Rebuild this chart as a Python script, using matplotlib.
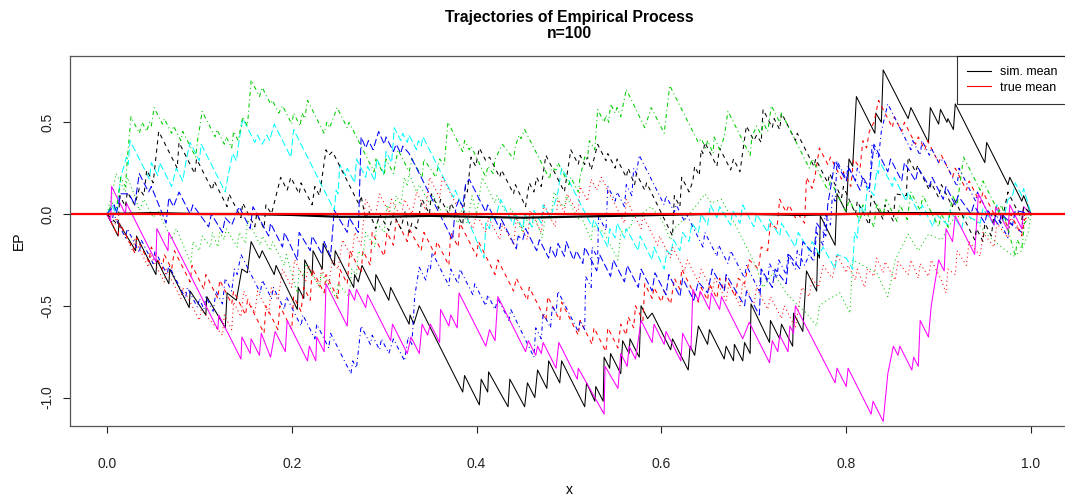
import matplotlib
matplotlib.use("Agg")
import matplotlib.pyplot as plt

plt.rcParams['font.family'] = ['Liberation Sans', 'DejaVu Sans']

# ten simulated trajectories (x, EP), in matplot order
black_solid = [(0, 0), (0.012, -0.12), (0.013, -0.05), (0.031, -0.2), (0.032, -0.12), (0.053, -0.33),
               (0.054, -0.25), (0.067, -0.38), (0.068, -0.3), (0.089, -0.51), (0.09, -0.42), (0.107, -0.55),
               (0.108, -0.45), (0.128, -0.62), (0.13, -0.43), (0.14, -0.47), (0.146, -0.3), (0.152, -0.32),
               (0.156, -0.15), (0.165, -0.24), (0.168, -0.2), (0.181, -0.33), (0.183, -0.28), (0.206, -0.52),
               (0.207, -0.4), (0.213, -0.46), (0.214, -0.25), (0.222, -0.33), (0.223, -0.2), (0.233, -0.3),
               (0.234, -0.16), (0.246, -0.28), (0.247, -0.2), (0.267, -0.4), (0.268, -0.33), (0.272, -0.37),
               (0.276, -0.28), (0.29, -0.42), (0.291, -0.33), (0.305, -0.47), (0.307, -0.4), (0.327, -0.6),
               (0.328, -0.55), (0.332, -0.6), (0.338, -0.5), (0.385, -0.97), (0.387, -0.88), (0.403, -1.04),
               (0.405, -0.9), (0.412, -0.97), (0.413, -0.86), (0.434, -1.05), (0.436, -0.9), (0.452, -1.05),
               (0.455, -0.92), (0.463, -1.0), (0.466, -0.85), (0.476, -0.95), (0.478, -0.8), (0.49, -0.92),
               (0.492, -0.8), (0.517, -1.05), (0.519, -0.92), (0.528, -1.02), (0.529, -0.94), (0.537, -1.02),
               (0.538, -0.78), (0.544, -0.84), (0.545, -0.76), (0.556, -0.87), (0.558, -0.69), (0.565, -0.76),
               (0.566, -0.68), (0.576, -0.78), (0.578, -0.5), (0.585, -0.57), (0.59, -0.54), (0.61, -0.74),
               (0.612, -0.68), (0.629, -0.85), (0.631, -0.72), (0.636, -0.77), (0.64, -0.61), (0.65, -0.71),
               (0.652, -0.63), (0.668, -0.79), (0.67, -0.72), (0.678, -0.8), (0.679, -0.71), (0.688, -0.8),
               (0.69, -0.7), (0.696, -0.76), (0.697, -0.49), (0.717, -0.7), (0.718, -0.58), (0.728, -0.68),
               (0.73, -0.6), (0.742, -0.72), (0.743, -0.54), (0.753, -0.64), (0.757, -0.31), (0.768, -0.42),
               (0.769, -0.21), (0.771, -0.24), (0.772, -0.01), (0.788, -0.17), (0.79, 0.11), (0.8, 0.01),
               (0.803, 0.3), (0.807, 0.26), (0.811, 0.64), (0.831, 0.44), (0.832, 0.55), (0.838, 0.5),
               (0.84, 0.785), (0.867, 0.52), (0.87, 0.58), (0.889, 0.39), (0.891, 0.58), (0.9, 0.49),
               (0.902, 0.57), (0.909, 0.5), (0.91, 0.52), (0.916, 0.46), (0.918, 0.6), (0.95, 0.28),
               (0.952, 0.39), (0.975, 0.16), (0.977, 0.2), (0.99, 0.07), (0.992, 0.1), (1.0, 0.0)]

red_dashed = [(0, 0), (0.012, -0.12), (0.014, -0.05), (0.03, -0.21), (0.032, -0.13), (0.045, -0.26),
              (0.048, -0.18), (0.06, -0.3), (0.062, -0.22), (0.07, -0.3), (0.073, -0.2), (0.09, -0.37),
              (0.092, -0.28), (0.105, -0.41), (0.107, -0.33), (0.12, -0.46), (0.122, -0.36), (0.135, -0.49),
              (0.137, -0.42), (0.15, -0.55), (0.152, -0.47), (0.17, -0.65), (0.172, -0.5), (0.185, -0.63),
              (0.187, -0.5), (0.2, -0.63), (0.202, -0.45), (0.21, -0.53), (0.213, -0.4), (0.22, -0.47),
              (0.222, -0.3), (0.235, -0.43), (0.237, -0.33), (0.25, -0.46), (0.252, -0.3), (0.26, -0.38),
              (0.263, -0.2), (0.275, -0.32), (0.277, -0.2), (0.285, -0.28), (0.287, -0.1), (0.3, -0.23),
              (0.303, -0.1), (0.31, -0.17), (0.313, -0.03), (0.325, -0.15), (0.327, -0.08), (0.34, -0.2),
              (0.343, -0.1), (0.355, -0.22), (0.357, -0.15), (0.37, -0.28), (0.372, -0.1), (0.38, -0.18),
              (0.382, -0.05), (0.4, -0.23), (0.402, -0.15), (0.42, -0.33), (0.423, -0.25), (0.44, -0.42),
              (0.443, -0.35), (0.455, -0.47), (0.457, -0.4), (0.475, -0.58), (0.477, -0.45), (0.49, -0.58),
              (0.492, -0.48), (0.51, -0.66), (0.512, -0.58), (0.525, -0.71), (0.527, -0.62), (0.54, -0.75),
              (0.542, -0.62), (0.553, -0.73), (0.556, -0.6), (0.562, -0.66), (0.564, -0.56), (0.57, -0.62),
              (0.572, -0.5), (0.58, -0.58), (0.582, -0.38), (0.59, -0.46), (0.592, -0.4), (0.6, -0.48),
              (0.603, -0.42), (0.61, -0.49), (0.614, -0.35), (0.62, -0.41), (0.622, -0.3), (0.64, -0.48),
              (0.643, -0.4), (0.65, -0.47), (0.652, -0.38), (0.66, -0.46), (0.663, -0.35), (0.668, -0.42),
              (0.67, -0.35), (0.68, -0.45), (0.683, -0.35), (0.69, -0.38), (0.695, -0.25), (0.705, -0.3),
              (0.708, -0.18), (0.715, -0.2), (0.718, -0.05), (0.725, -0.08), (0.728, 0.08), (0.735, 0.01),
              (0.738, 0.05), (0.745, -0.02), (0.748, 0.0), (0.755, -0.05), (0.757, 0.2), (0.763, 0.14),
              (0.766, 0.2), (0.771, 0.36), (0.78, 0.27), (0.783, 0.31), (0.795, 0.19), (0.797, 0.23),
              (0.805, 0.15), (0.808, 0.3), (0.815, 0.25), (0.818, 0.4), (0.822, 0.36), (0.825, 0.45),
              (0.83, 0.5), (0.835, 0.62), (0.85, 0.47), (0.852, 0.53), (0.86, 0.45), (0.863, 0.5),
              (0.875, 0.38), (0.878, 0.42), (0.885, 0.35), (0.888, 0.4), (0.9, 0.28), (0.903, 0.32),
              (0.915, 0.2), (0.918, 0.25), (0.93, 0.13), (0.933, 0.18), (0.945, 0.06), (0.948, 0.12),
              (0.96, 0.0), (0.963, 0.05), (0.975, -0.07), (0.978, 0.0), (0.99, -0.12), (0.993, -0.03), (1, 0)]

green_dotted = [(0, 0), (0.005, 0.1), (0.01, 0.22), (0.02, 0.12), (0.022, 0.2), (0.03, 0.1), (0.035, 0.02),
                (0.04, 0.08), (0.05, -0.02), (0.055, 0.02), (0.07, -0.14), (0.075, -0.08), (0.091, -0.27),
                (0.093, -0.15), (0.1, -0.2), (0.103, -0.12), (0.112, -0.18), (0.114, -0.1), (0.12, -0.18),
                (0.122, -0.1), (0.127, -0.14), (0.129, -0.08), (0.141, -0.18), (0.143, -0.1), (0.15, -0.16),
                (0.152, -0.03), (0.166, -0.17), (0.168, -0.12), (0.177, -0.2), (0.179, -0.15), (0.192, -0.28),
                (0.194, -0.22), (0.206, -0.43), (0.208, -0.3), (0.213, -0.34), (0.215, -0.27), (0.23, -0.4),
                (0.232, -0.32), (0.248, -0.46), (0.25, -0.38), (0.262, -0.45), (0.265, -0.3), (0.27, -0.33),
                (0.272, -0.2), (0.277, -0.23), (0.28, -0.1), (0.29, -0.18), (0.292, -0.05), (0.3, -0.1),
                (0.303, 0.05), (0.31, -0.02), (0.313, 0.1), (0.318, 0.05), (0.322, 0.2), (0.325, 0.15),
                (0.327, 0.22), (0.335, 0.12), (0.338, 0.16), (0.35, 0.05), (0.353, 0.1), (0.365, -0.02),
                (0.368, 0.04), (0.38, -0.05), (0.383, 0.02), (0.39, -0.05), (0.395, 0.1), (0.4, 0.0),
                (0.403, 0.1), (0.406, 0.2), (0.42, 0.06), (0.422, 0.1), (0.435, -0.03), (0.437, 0.03),
                (0.45, -0.1), (0.452, -0.02), (0.46, -0.07), (0.462, 0.0), (0.471, -0.13), (0.475, 0.0),
                (0.48, -0.03), (0.484, 0.12), (0.49, 0.06), (0.495, 0.04), (0.497, 0.1), (0.51, -0.03),
                (0.512, 0.0), (0.524, -0.14), (0.526, -0.06), (0.538, -0.1), (0.553, -0.25), (0.556, -0.1),
                (0.567, -0.07), (0.57, 0.0), (0.578, 0.0), (0.589, 0.04), (0.6, -0.03), (0.61, -0.14),
                (0.613, -0.08), (0.625, -0.03), (0.64, 0.06), (0.647, 0.11), (0.654, 0.06), (0.665, 0.08),
                (0.677, -0.03), (0.692, -0.18), (0.703, -0.29), (0.71, -0.4), (0.721, -0.32), (0.735, -0.43),
                (0.746, -0.49), (0.757, -0.54), (0.768, -0.61), (0.771, -0.5), (0.779, -0.47), (0.793, -0.43),
                (0.804, -0.54), (0.807, -0.25), (0.822, -0.29), (0.833, -0.32), (0.845, -0.45), (0.853, -0.25),
                (0.867, -0.11), (0.878, -0.2), (0.889, -0.11), (0.903, -0.14), (0.918, -0.01), (0.939, -0.03),
                (0.954, -0.12), (0.968, -0.18), (0.981, -0.23), (0.99, -0.2), (0.997, -0.1), (1, 0)]

blue_dotdash = [(0, 0), (0.005, -0.05), (0.007, 0.0), (0.02, -0.13), (0.022, -0.08), (0.035, -0.21),
                (0.037, -0.14), (0.05, -0.27), (0.052, -0.2), (0.065, -0.33), (0.067, -0.28), (0.085, -0.46),
                (0.087, -0.4), (0.098, -0.51), (0.1, -0.46), (0.105, -0.52), (0.107, -0.45), (0.115, -0.53),
                (0.118, -0.42), (0.125, -0.49), (0.128, -0.35), (0.135, -0.42), (0.138, -0.3), (0.141, -0.33),
                (0.145, -0.22), (0.166, -0.43), (0.168, -0.36), (0.178, -0.46), (0.18, -0.4), (0.192, -0.52),
                (0.194, -0.45), (0.21, -0.61), (0.212, -0.55), (0.225, -0.68), (0.227, -0.6), (0.24, -0.73),
                (0.242, -0.65), (0.264, -0.87), (0.266, -0.8), (0.27, -0.84), (0.272, -0.75), (0.275, -0.61),
                (0.285, -0.71), (0.287, -0.66), (0.295, -0.74), (0.297, -0.68), (0.305, -0.76), (0.31, -0.68),
                (0.322, -0.8), (0.326, -0.67), (0.33, -0.71), (0.333, -0.45), (0.338, -0.29), (0.345, -0.36),
                (0.348, -0.28), (0.35, -0.3), (0.352, -0.21), (0.37, -0.39), (0.372, -0.3), (0.38, -0.38),
                (0.382, -0.3), (0.396, -0.44), (0.398, -0.38), (0.41, -0.5), (0.412, -0.44), (0.42, -0.52),
                (0.423, -0.46), (0.435, -0.58), (0.437, -0.52), (0.462, -0.78), (0.464, -0.62), (0.47, -0.68),
                (0.472, -0.54), (0.48, -0.62), (0.482, -0.5), (0.486, -0.54), (0.488, -0.42), (0.51, -0.64),
                (0.512, -0.58), (0.517, -0.63), (0.518, -0.34), (0.524, -0.4), (0.525, -0.18), (0.531, -0.24),
                (0.532, -0.01), (0.54, -0.09), (0.542, 0.15), (0.55, 0.07), (0.552, 0.12), (0.56, 0.04),
                (0.562, 0.16), (0.568, 0.1), (0.57, 0.25), (0.573, 0.22), (0.576, 0.32), (0.603, 0.05),
                (0.605, 0.1), (0.614, 0.01), (0.616, 0.05), (0.625, -0.04), (0.627, 0.0), (0.645, -0.18),
                (0.647, -0.1), (0.66, -0.23), (0.662, -0.17), (0.672, -0.27), (0.675, -0.2), (0.69, -0.35),
                (0.692, -0.28), (0.706, -0.42), (0.708, -0.3), (0.715, -0.37), (0.717, -0.27), (0.725, -0.35),
                (0.727, -0.25), (0.735, -0.33), (0.737, -0.22), (0.745, -0.3), (0.747, -0.2), (0.755, -0.28),
                (0.76, -0.22), (0.765, -0.26), (0.768, -0.1), (0.775, -0.17), (0.777, 0.0), (0.783, -0.06),
                (0.785, 0.1), (0.788, 0.07), (0.79, 0.29), (0.8, 0.19), (0.802, 0.26), (0.81, 0.18),
                (0.812, 0.25), (0.825, 0.12), (0.828, 0.38), (0.835, 0.31), (0.838, 0.45), (0.845, 0.6),
                (0.87, 0.35), (0.872, 0.4), (0.88, 0.32), (0.882, 0.4), (0.89, 0.32), (0.892, 0.36),
                (0.9, 0.28), (0.905, 0.3), (0.92, 0.15), (0.922, 0.25), (0.94, 0.07), (0.942, 0.12),
                (0.96, -0.06), (0.962, 0.0), (0.975, -0.13), (0.977, -0.05), (0.99, -0.1), (0.992, 0.04), (1, 0)]

cyan_longdash = [(0, 0), (0.005, 0.05), (0.01, 0.0), (0.015, 0.2), (0.021, 0.31), (0.023, 0.27), (0.025, 0.4),
                 (0.046, 0.19), (0.048, 0.28), (0.055, 0.21), (0.057, 0.28), (0.07, 0.15), (0.075, 0.25),
                 (0.082, 0.18), (0.086, 0.3), (0.09, 0.39), (0.1, 0.29), (0.102, 0.38), (0.128, 0.12),
                 (0.13, 0.18), (0.136, 0.33), (0.14, 0.29), (0.143, 0.4), (0.147, 0.52), (0.16, 0.39),
                 (0.163, 0.43), (0.168, 0.38), (0.173, 0.43), (0.176, 0.4), (0.181, 0.49), (0.199, 0.31),
                 (0.202, 0.46), (0.246, 0.02), (0.248, 0.13), (0.25, 0.11), (0.252, 0.27), (0.258, 0.21),
                 (0.26, 0.25), (0.268, 0.17), (0.27, 0.3), (0.28, 0.2), (0.282, 0.26), (0.29, 0.18),
                 (0.292, 0.3), (0.3, 0.22), (0.302, 0.34), (0.308, 0.28), (0.311, 0.47), (0.318, 0.4),
                 (0.32, 0.44), (0.325, 0.39), (0.327, 0.43), (0.335, 0.35), (0.337, 0.4), (0.34, 0.37),
                 (0.342, 0.42), (0.375, 0.09), (0.377, 0.13), (0.408, -0.24), (0.41, -0.05), (0.414, -0.08),
                 (0.416, 0.0), (0.42, -0.03), (0.426, 0.08), (0.44, -0.06), (0.442, 0.0), (0.45, -0.08),
                 (0.452, 0.0), (0.46, -0.07), (0.462, 0.02), (0.47, -0.05), (0.472, 0.05), (0.48, -0.02),
                 (0.488, 0.12), (0.492, 0.25), (0.5, 0.18), (0.525, -0.07), (0.527, -0.03), (0.542, -0.18),
                 (0.544, -0.08), (0.55, -0.13), (0.552, -0.05), (0.56, -0.13), (0.562, -0.08), (0.575, -0.2),
                 (0.577, -0.12), (0.59, -0.25), (0.592, -0.18), (0.603, -0.3), (0.606, -0.2), (0.61, -0.22),
                 (0.613, -0.14), (0.62, -0.2), (0.623, -0.1), (0.63, -0.15), (0.633, -0.05), (0.64, -0.1),
                 (0.643, 0.0), (0.65, -0.06), (0.653, 0.05), (0.66, -0.02), (0.663, 0.04), (0.675, -0.06),
                 (0.677, 0.02), (0.685, -0.05), (0.688, 0.05), (0.7, -0.07), (0.703, 0.0), (0.715, -0.1),
                 (0.717, -0.03), (0.728, -0.12), (0.73, -0.05), (0.745, -0.18), (0.748, -0.1), (0.76, -0.2),
                 (0.763, -0.15), (0.771, -0.22), (0.775, -0.18), (0.788, -0.3), (0.79, -0.22), (0.8, -0.24),
                 (0.807, -0.3), (0.809, -0.1), (0.812, -0.13), (0.815, 0.05), (0.82, 0.0), (0.823, 0.15),
                 (0.83, 0.1), (0.833, 0.24), (0.835, 0.22), (0.836, 0.29), (0.85, 0.15), (0.852, 0.2),
                 (0.865, 0.07), (0.867, 0.12), (0.88, -0.01), (0.882, 0.05), (0.894, -0.07), (0.897, 0.0),
                 (0.91, -0.06), (0.912, 0.02), (0.925, -0.08), (0.928, 0.0), (0.945, -0.05), (0.948, 0.03),
                 (0.96, -0.06), (0.963, 0.05), (0.97, -0.04), (0.975, 0.08), (0.98, 0.1), (0.983, 0.17),
                 (0.99, 0.1), (0.992, 0.14), (1, 0)]

magenta_solid = [(0, 0), (0.004, -0.04), (0.005, 0.15), (0.02, 0.0), (0.021, 0.06), (0.053, -0.26),
                 (0.054, -0.08), (0.066, -0.2), (0.067, -0.1), (0.12, -0.63), (0.121, -0.55), (0.145, -0.79),
                 (0.146, -0.67), (0.155, -0.76), (0.156, -0.68), (0.165, -0.77), (0.167, -0.65), (0.177, -0.78),
                 (0.182, -0.64), (0.193, -0.75), (0.195, -0.58), (0.217, -0.8), (0.219, -0.72), (0.226, -0.8),
                 (0.227, -0.67), (0.235, -0.75), (0.237, -0.38), (0.26, -0.61), (0.262, -0.41), (0.268, -0.47),
                 (0.27, -0.41), (0.28, -0.51), (0.282, -0.44), (0.307, -0.69), (0.309, -0.6), (0.325, -0.76),
                 (0.329, -0.67), (0.338, -0.76), (0.341, -0.6), (0.347, -0.66), (0.35, -0.6), (0.36, -0.7),
                 (0.361, -0.52), (0.37, -0.61), (0.372, -0.55), (0.379, -0.62), (0.381, -0.43), (0.41, -0.72),
                 (0.414, -0.63), (0.42, -0.69), (0.423, -0.45), (0.453, -0.75), (0.456, -0.69), (0.464, -0.77),
                 (0.466, -0.72), (0.47, -0.76), (0.472, -0.7), (0.486, -0.84), (0.489, -0.7), (0.509, -0.9),
                 (0.51, -0.84), (0.538, -1.09), (0.539, -0.83), (0.553, -0.95), (0.556, -0.76), (0.563, -0.83),
                 (0.565, -0.72), (0.572, -0.79), (0.578, -0.58), (0.59, -0.7), (0.592, -0.6), (0.603, -0.71),
                 (0.605, -0.64), (0.621, -0.8), (0.623, -0.65), (0.632, -0.74), (0.634, -0.41), (0.64, -0.47),
                 (0.642, -0.42), (0.652, -0.52), (0.654, -0.43), (0.663, -0.52), (0.665, -0.45), (0.688, -0.68),
                 (0.695, -0.59), (0.717, -0.81), (0.72, -0.69), (0.726, -0.75), (0.728, -0.66), (0.737, -0.75),
                 (0.739, -0.61), (0.743, -0.65), (0.745, -0.5), (0.788, -0.92), (0.79, -0.84), (0.8, -0.94),
                 (0.802, -0.84), (0.827, -1.09), (0.829, -1.02), (0.84, -1.13), (0.845, -0.87), (0.851, -0.72),
                 (0.856, -0.77), (0.858, -0.72), (0.871, -0.85), (0.873, -0.78), (0.878, -0.83), (0.88, -0.58),
                 (0.889, -0.67), (0.892, -0.5), (0.9, -0.25), (0.906, -0.31), (0.908, -0.08), (0.915, -0.15),
                 (0.918, -0.01), (0.939, -0.22), (0.943, 0.11), (0.96, -0.06), (0.962, 0.04), (0.975, -0.09),
                 (0.977, 0.05), (0.99, -0.08), (0.992, 0.04), (1, 0)]

black_dashed = [(0, 0), (0.012, -0.06), (0.014, 0.1), (0.02, 0.04), (0.022, 0.12), (0.03, 0.05), (0.035, 0.14),
                (0.04, 0.1), (0.043, 0.24), (0.05, 0.17), (0.056, 0.45), (0.076, 0.25), (0.078, 0.39),
                (0.095, 0.22), (0.097, 0.3), (0.114, 0.13), (0.116, 0.18), (0.13, 0.04), (0.132, 0.11),
                (0.145, -0.02), (0.147, 0.06), (0.16, -0.07), (0.162, 0.0), (0.17, -0.08), (0.172, 0.05),
                (0.178, 0.0), (0.188, 0.2), (0.195, 0.13), (0.199, 0.2), (0.208, 0.11), (0.21, 0.17),
                (0.222, 0.05), (0.225, 0.15), (0.23, 0.1), (0.237, 0.35), (0.24, 0.32), (0.244, 0.34),
                (0.273, 0.05), (0.275, 0.1), (0.28, -0.03), (0.283, 0.02), (0.291, -0.08), (0.295, 0.0),
                (0.305, -0.09), (0.31, 0.0), (0.318, -0.08), (0.323, 0.02), (0.327, -0.1), (0.33, -0.05),
                (0.335, -0.08), (0.341, 0.08), (0.349, 0.0), (0.351, 0.11), (0.359, 0.03), (0.361, 0.08),
                (0.37, 0.0), (0.372, 0.06), (0.385, -0.06), (0.388, 0.15), (0.39, 0.12), (0.394, 0.31),
                (0.399, 0.26), (0.403, 0.36), (0.41, 0.29), (0.414, 0.31), (0.425, 0.2), (0.427, 0.24),
                (0.44, 0.11), (0.442, 0.16), (0.453, 0.04), (0.457, 0.17), (0.462, 0.12), (0.465, 0.2),
                (0.47, 0.15), (0.475, 0.32), (0.495, 0.12), (0.502, 0.35), (0.51, 0.27), (0.512, 0.32),
                (0.517, 0.27), (0.52, 0.31), (0.524, 0.24), (0.531, 0.38), (0.54, 0.29), (0.542, 0.33),
                (0.55, 0.25), (0.552, 0.3), (0.562, 0.2), (0.564, 0.25), (0.571, 0.16), (0.573, 0.22),
                (0.582, 0.13), (0.584, 0.17), (0.612, -0.12), (0.614, 0.1), (0.62, 0.04), (0.622, 0.2),
                (0.63, 0.12), (0.634, 0.18), (0.636, 0.26), (0.641, 0.21), (0.643, 0.35), (0.645, 0.33),
                (0.647, 0.39), (0.66, 0.26), (0.663, 0.36), (0.675, 0.24), (0.678, 0.3), (0.685, 0.23),
                (0.692, 0.48), (0.7, 0.4), (0.703, 0.43), (0.708, 0.39), (0.71, 0.57), (0.72, 0.47),
                (0.722, 0.52), (0.728, 0.46), (0.73, 0.55), (0.745, 0.4), (0.747, 0.44), (0.765, 0.26),
                (0.767, 0.3), (0.78, 0.17), (0.782, 0.22), (0.795, 0.09), (0.797, 0.15), (0.81, 0.0),
                (0.812, 0.07), (0.825, -0.06), (0.827, 0.1), (0.84, -0.03), (0.842, 0.05), (0.851, -0.04),
                (0.853, 0.11), (0.865, 0.1), (0.867, 0.31), (0.875, 0.23), (0.877, 0.26), (0.89, 0.13),
                (0.892, 0.17), (0.9, 0.09), (0.903, 0.16), (0.915, 0.04), (0.917, 0.08), (0.939, -0.14),
                (0.941, -0.08), (0.948, -0.15), (0.95, -0.05), (0.957, -0.12), (0.96, 0.0), (0.968, -0.05),
                (0.975, 0.12), (0.99, -0.03), (0.992, 0.04), (1, 0)]

red_dotted = [(0, 0), (0.008, -0.08), (0.01, -0.02), (0.028, -0.2), (0.03, -0.14), (0.045, -0.29),
              (0.047, -0.22), (0.062, -0.37), (0.064, -0.3), (0.08, -0.46), (0.082, -0.4), (0.1, -0.58),
              (0.102, -0.52), (0.125, -0.66), (0.127, -0.55), (0.135, -0.63), (0.137, -0.48), (0.145, -0.56),
              (0.148, -0.42), (0.16, -0.54), (0.163, -0.42), (0.175, -0.54), (0.178, -0.4), (0.185, -0.47),
              (0.19, -0.3), (0.2, -0.4), (0.203, -0.25), (0.215, -0.37), (0.218, -0.28), (0.23, -0.4),
              (0.232, -0.3), (0.24, -0.38), (0.244, -0.25), (0.25, -0.3), (0.255, -0.14), (0.265, -0.24),
              (0.268, -0.1), (0.275, -0.17), (0.28, 0.08), (0.29, -0.02), (0.295, 0.11), (0.305, 0.01),
              (0.308, 0.08), (0.318, -0.02), (0.322, 0.08), (0.33, 0.0), (0.335, 0.12), (0.345, 0.02),
              (0.349, 0.2), (0.36, 0.09), (0.363, 0.2), (0.378, 0.05), (0.38, 0.08), (0.396, -0.08),
              (0.4, 0.0), (0.41, -0.1), (0.413, -0.02), (0.425, -0.14), (0.428, -0.05), (0.44, -0.17),
              (0.443, -0.02), (0.455, -0.14), (0.458, 0.02), (0.47, -0.1), (0.473, 0.05), (0.485, -0.07),
              (0.488, 0.08), (0.495, 0.01), (0.498, 0.11), (0.51, 0.0), (0.512, 0.15), (0.52, 0.07),
              (0.524, 0.19), (0.53, 0.13), (0.535, 0.2), (0.56, -0.05), (0.562, 0.08), (0.578, -0.08),
              (0.58, -0.01), (0.596, -0.17), (0.598, -0.12), (0.61, -0.24), (0.612, -0.18), (0.625, -0.31),
              (0.628, -0.25), (0.64, -0.37), (0.643, -0.3), (0.655, -0.42), (0.658, -0.35), (0.67, -0.47),
              (0.673, -0.38), (0.685, -0.5), (0.688, -0.37), (0.7, -0.49), (0.703, -0.4), (0.715, -0.52),
              (0.718, -0.45), (0.73, -0.57), (0.733, -0.5), (0.745, -0.62), (0.748, -0.52), (0.752, -0.4),
              (0.76, -0.45), (0.763, -0.35), (0.77, -0.4), (0.775, -0.28), (0.785, -0.35), (0.79, -0.22),
              (0.8, -0.32), (0.802, -0.28), (0.81, -0.36), (0.812, -0.3), (0.82, -0.4), (0.823, -0.3),
              (0.83, -0.34), (0.833, -0.24), (0.84, -0.32), (0.842, -0.26), (0.853, -0.36), (0.856, -0.26),
              (0.867, -0.33), (0.87, -0.25), (0.878, -0.35), (0.88, -0.27), (0.889, -0.34), (0.892, -0.25),
              (0.903, -0.36), (0.908, -0.43), (0.91, -0.3), (0.918, -0.33), (0.92, -0.2), (0.93, -0.28),
              (0.933, -0.15), (0.945, -0.23), (0.948, -0.1), (0.96, -0.18), (0.963, -0.05), (0.975, -0.13),
              (0.978, -0.02), (0.99, -0.1), (0.993, 0.0), (1, 0)]

green_dotdash = [(0, 0), (0.006, 0.06), (0.01, 0.02), (0.015, 0.2), (0.02, 0.15), (0.022, 0.3), (0.026, 0.53),
                 (0.035, 0.44), (0.038, 0.5), (0.043, 0.45), (0.046, 0.5), (0.048, 0.48), (0.051, 0.58),
                 (0.06, 0.49), (0.062, 0.52), (0.07, 0.44), (0.072, 0.48), (0.08, 0.4), (0.082, 0.45),
                 (0.096, 0.31), (0.098, 0.4), (0.1, 0.46), (0.103, 0.56), (0.117, 0.42), (0.119, 0.46),
                 (0.127, 0.38), (0.129, 0.42), (0.135, 0.36), (0.137, 0.45), (0.142, 0.4), (0.147, 0.53),
                 (0.152, 0.48), (0.156, 0.73), (0.165, 0.64), (0.168, 0.69), (0.177, 0.6), (0.179, 0.62),
                 (0.186, 0.55), (0.19, 0.59), (0.2, 0.49), (0.202, 0.55), (0.209, 0.48), (0.211, 0.55),
                 (0.214, 0.52), (0.217, 0.62), (0.235, 0.44), (0.238, 0.5), (0.241, 0.47), (0.249, 0.58),
                 (0.26, 0.47), (0.262, 0.5), (0.289, 0.23), (0.291, 0.3), (0.3, 0.21), (0.302, 0.3),
                 (0.31, 0.22), (0.315, 0.35), (0.327, 0.23), (0.33, 0.3), (0.341, 0.2), (0.343, 0.3),
                 (0.356, 0.2), (0.36, 0.3), (0.365, 0.27), (0.369, 0.5), (0.385, 0.34), (0.387, 0.4),
                 (0.392, 0.35), (0.394, 0.37), (0.41, 0.2), (0.412, 0.26), (0.418, 0.22), (0.42, 0.3),
                 (0.428, 0.38), (0.44, 0.3), (0.442, 0.37), (0.446, 0.43), (0.448, 0.41), (0.452, 0.46),
                 (0.479, 0.19), (0.481, 0.25), (0.486, 0.24), (0.488, 0.28), (0.5, 0.16), (0.502, 0.2),
                 (0.51, 0.12), (0.512, 0.2), (0.517, 0.31), (0.52, 0.3), (0.522, 0.4), (0.528, 0.35),
                 (0.531, 0.57), (0.538, 0.5), (0.54, 0.54), (0.543, 0.5), (0.545, 0.6), (0.55, 0.55),
                 (0.552, 0.58), (0.556, 0.53), (0.562, 0.68), (0.582, 0.47), (0.589, 0.58), (0.603, 0.44),
                 (0.609, 0.7), (0.64, 0.39), (0.643, 0.41), (0.648, 0.36), (0.65, 0.4), (0.656, 0.33),
                 (0.657, 0.42), (0.663, 0.35), (0.668, 0.42), (0.672, 0.56), (0.696, 0.32), (0.698, 0.42),
                 (0.703, 0.48), (0.708, 0.43), (0.71, 0.5), (0.715, 0.45), (0.719, 0.59), (0.728, 0.5),
                 (0.73, 0.55), (0.76, 0.25), (0.763, 0.3), (0.78, 0.13), (0.783, 0.18), (0.8, 0.01),
                 (0.803, 0.08), (0.815, -0.04), (0.818, 0.05), (0.83, -0.07), (0.833, 0.06), (0.84, -0.01),
                 (0.843, 0.08), (0.855, -0.04), (0.858, 0.05), (0.866, -0.03), (0.87, 0.12), (0.88, 0.02),
                 (0.883, 0.1), (0.9, -0.07), (0.903, 0.0), (0.91, -0.07), (0.915, 0.1), (0.92, 0.05),
                 (0.927, 0.31), (0.945, 0.13), (0.948, 0.18), (0.965, 0.01), (0.968, 0.05), (0.983, -0.23),
                 (0.985, -0.14), (0.99, -0.19), (0.993, -0.05), (1, 0)]

blue_longdash = [(0, 0), (0.008, 0.05), (0.01, 0.0), (0.015, 0.11), (0.024, 0.11), (0.03, 0.05), (0.035, 0.22),
                 (0.045, 0.12), (0.048, 0.15), (0.064, -0.05), (0.067, 0.09), (0.072, 0.04), (0.078, 0.12),
                 (0.09, 0.0), (0.093, 0.05), (0.11, -0.07), (0.113, 0.0), (0.125, -0.1), (0.128, -0.02),
                 (0.135, -0.06), (0.143, 0.04), (0.155, -0.08), (0.158, 0.04), (0.175, -0.12), (0.177, -0.05),
                 (0.19, -0.18), (0.192, -0.1), (0.206, -0.25), (0.208, -0.1), (0.22, -0.2), (0.222, -0.12),
                 (0.233, -0.22), (0.235, -0.15), (0.242, -0.23), (0.246, 0.02), (0.26, -0.1), (0.262, -0.02),
                 (0.272, -0.1), (0.275, 0.42), (0.28, 0.36), (0.283, 0.4), (0.288, 0.35), (0.294, 0.45),
                 (0.3, 0.38), (0.302, 0.42), (0.31, 0.34), (0.313, 0.38), (0.318, 0.33), (0.32, 0.37),
                 (0.327, 0.33), (0.374, -0.14), (0.376, -0.02), (0.378, 0.04), (0.381, 0.08), (0.385, 0.04),
                 (0.388, 0.16), (0.392, 0.19), (0.41, 0.01), (0.412, 0.05), (0.425, -0.08), (0.427, -0.03),
                 (0.443, -0.19), (0.445, -0.12), (0.45, -0.14), (0.453, -0.08), (0.465, -0.2), (0.468, -0.14),
                 (0.478, -0.24), (0.48, -0.18), (0.486, -0.24), (0.488, -0.16), (0.495, -0.23), (0.497, -0.15),
                 (0.505, -0.25), (0.508, -0.2), (0.515, -0.27), (0.517, -0.18), (0.53, -0.31), (0.533, -0.22),
                 (0.545, -0.34), (0.548, -0.25), (0.56, -0.37), (0.563, -0.28), (0.575, -0.4), (0.578, -0.3),
                 (0.59, -0.42), (0.593, -0.32), (0.605, -0.44), (0.608, -0.33), (0.62, -0.45), (0.623, -0.35),
                 (0.635, -0.47), (0.64, -0.37), (0.65, -0.43), (0.655, -0.3), (0.668, -0.42), (0.67, -0.33),
                 (0.69, -0.5), (0.692, -0.42), (0.706, -0.55), (0.708, -0.3), (0.72, -0.4), (0.723, -0.3),
                 (0.735, -0.38), (0.738, -0.22), (0.75, -0.3), (0.753, -0.15), (0.765, -0.22), (0.768, -0.05),
                 (0.778, -0.12), (0.78, 0.05), (0.788, 0.29), (0.8, 0.18), (0.803, 0.25), (0.815, 0.13),
                 (0.818, 0.2), (0.825, 0.14), (0.83, 0.38), (0.845, 0.23), (0.848, 0.3), (0.86, 0.18),
                 (0.863, 0.28), (0.875, 0.18), (0.878, 0.25), (0.89, 0.15), (0.893, 0.2), (0.905, 0.08),
                 (0.908, 0.15), (0.918, 0.05), (0.921, 0.1), (0.935, 0.0), (0.938, 0.05), (0.95, -0.05),
                 (0.953, 0.02), (0.965, -0.06), (0.968, 0.0), (0.98, -0.06), (0.983, 0.02), (1, 0)]

# simulated mean and true mean
mean_x = [0, 0.05, 0.1, 0.15, 0.2, 0.25, 0.3, 0.35, 0.4, 0.45, 0.5, 0.55, 0.6, 0.65, 0.7, 0.75, 0.8, 0.85,
          0.9, 0.95, 1.0]
mean_y = [0, 0.005, 0.0, 0.0, -0.005, -0.015, -0.015, -0.01, -0.015, -0.02, -0.015, -0.01, -0.005, 0.0,
          0.0, -0.005, 0.0, 0.005, 0.005, 0.0, 0.0]
true_mean = 0.0

trajectories = [black_solid, red_dashed, green_dotted, blue_dotdash, cyan_longdash,
                magenta_solid, black_dashed, red_dotted, green_dotdash, blue_longdash]

# R matplot defaults: col = 1:6, lty = 1:5
r_cols = ['#000000', '#FF0000', '#00CD00', '#0000FF', '#00FFFF', '#FF00FF']
r_ltys = ['-', (0, (4, 4)), (0, (1, 3)), (0, (1, 3, 4, 3)), (0, (7, 3))]

fig = plt.figure(figsize=(10.65, 4.97), dpi=100)
ax = fig.add_axes([70 / 1065, 71 / 497, 998 / 1065, 370 / 497])

for i, traj in enumerate(trajectories):
    xs = [p[0] for p in traj]
    ys = [p[1] for p in traj]
    ax.plot(xs, ys, color=r_cols[i % 6], linestyle=r_ltys[i % 5], linewidth=0.75)

ax.plot(mean_x, mean_y, color='black', linewidth=1.6)
ax.axhline(true_mean, color='red', linewidth=1.6)

ax.set_xlim(-0.04, 1.04)
ax.set_ylim(-1.155, 0.861)
ax.set_xticks([0.0, 0.2, 0.4, 0.6, 0.8, 1.0])
ax.set_yticks([-1.0, -0.5, 0.0, 0.5])
ax.set_xticklabels(['0.0', '0.2', '0.4', '0.6', '0.8', '1.0'])
ax.set_yticklabels(['-1.0', '-0.5', '0.0', '0.5'], rotation=90, va='center')
ax.tick_params(axis='x', labelsize=10, length=5, width=0.8, colors='#222222', pad=17)
ax.tick_params(axis='y', labelsize=10, length=5, width=0.8, colors='#222222', pad=6)
for s in ax.spines.values():
    s.set_color('#555555')
    s.set_linewidth(0.9)

ax.set_xlabel('x', fontsize=10, labelpad=9)
ax.set_ylabel('EP', fontsize=10, labelpad=11)
ax.set_title('Trajectories of Empirical Process\nn=100', fontsize=11.3, fontweight='bold',
             linespacing=1.12, pad=13)

leg = ax.legend(handles=[plt.Line2D([], [], color='black', lw=0.8),
                         plt.Line2D([], [], color='red', lw=0.8)],
                labels=['sim. mean', 'true mean'], loc='upper right', fontsize=9,
                frameon=True, fancybox=False, borderaxespad=0, handlelength=1.9,
                handletextpad=0.8, borderpad=0.8, labelspacing=0.3)
leg.get_frame().set_edgecolor('black')
leg.get_frame().set_linewidth(0.8)

fig.savefig('out.png', dpi=100)
